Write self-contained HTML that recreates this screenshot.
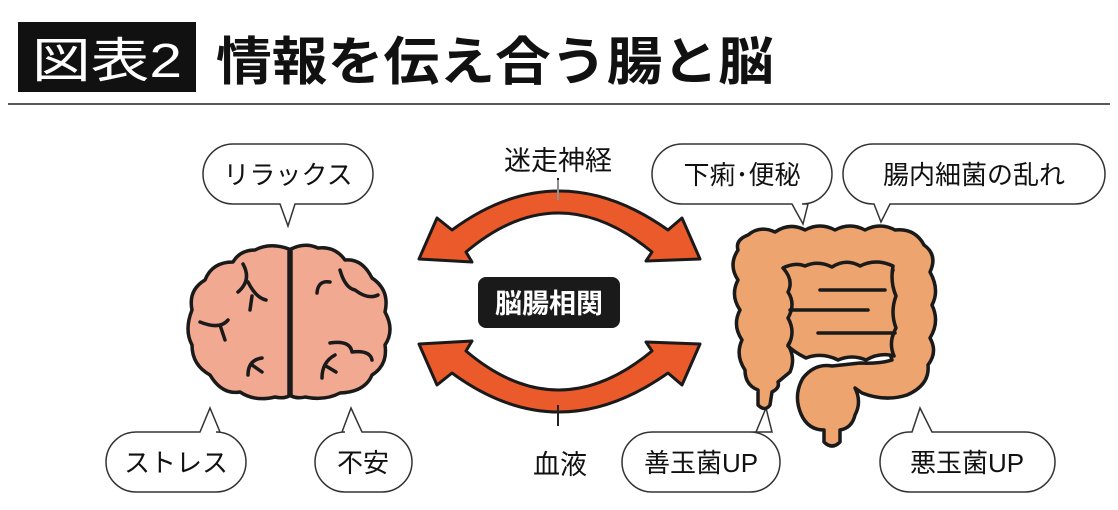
<!DOCTYPE html>
<html><head><meta charset="utf-8"><style>
html,body{margin:0;padding:0;background:#fff;}
svg{display:block;}
text{font-family:"Liberation Sans","Noto Sans CJK JP",sans-serif;}
</style></head><body>
<svg width="1118" height="510" viewBox="0 0 1118 510" xmlns="http://www.w3.org/2000/svg">
<rect x="18" y="22" width="178" height="70" fill="#111"/>
<text x="107" y="77" font-size="48" fill="#fff" text-anchor="middle" textLength="150" lengthAdjust="spacingAndGlyphs">図表2</text>
<text x="216" y="80" font-size="52" font-weight="bold" fill="#111" textLength="558" lengthAdjust="spacingAndGlyphs">情報を伝え合う腸と脳</text>
<line x1="8" y1="104" x2="1110" y2="104" stroke="#222" stroke-width="1.5"/>

<g stroke="#1a1a1a" stroke-width="3" stroke-linejoin="round" fill="#ea5a2a">
<path d="M437,218 L419,259 L472,262 L466,252 Q558,174 652,252 L646,261 L700,259 L682,218 L668,230 Q558,152 452,230 Z"/>
<path d="M437,385 L419,344 L472,341 L466,351 Q558,429 652,351 L646,342 L700,344 L682,385 L668,373 Q558,451 452,373 Z"/>
</g>
<line x1="558" y1="178" x2="558" y2="200" stroke="#222" stroke-width="2"/>
<line x1="558" y1="405" x2="558" y2="426" stroke="#222" stroke-width="2"/>
<line x1="558" y1="180" x2="558" y2="200" stroke="#fff" stroke-width="1"/>
<text x="558" y="170" font-size="27" text-anchor="middle" fill="#111">迷走神経</text>
<text x="560" y="474" font-size="27" text-anchor="middle" fill="#111">血液</text>
<rect x="478" y="277" width="142" height="51" rx="8" fill="#1a1a1a"/>
<text x="549" y="313" font-size="27" font-weight="bold" text-anchor="middle" fill="#fff">脳腸相関</text>

<g fill="#fff" stroke="#333" stroke-width="1.5">
<path d="M233,144 H343 A30,30 0 0 1 343,204 H295 L288,226 L280,204 H233 A30,30 0 0 1 233,144 Z"/>
<path d="M682,144 H802 A30,30 0 0 1 802,204 H808 L803,224 L792,204 H682 A30,30 0 0 1 682,144 Z"/>
<path d="M873,144 H1075 A30,30 0 0 1 1075,204 H890 L881,222 L874,204 H873 A30,30 0 0 1 873,144 Z"/>
<path d="M136,432 H200 L210,408 L220,432 H216 A30,30 0 0 1 216,492 H136 A30,30 0 0 1 136,432 Z"/>
<path d="M345,432 H342 L351,408 L362,432 H382 A30,30 0 0 1 382,492 H345 A30,30 0 0 1 345,432 Z"/>
<path d="M652,432 H756 L766,408 L772,432 H750 A30,30 0 0 1 750,492 H652 A30,30 0 0 1 652,432 Z"/>
<path d="M910,432 H912 L920,408 L932,432 H1025 A30,30 0 0 1 1025,492 H910 A30,30 0 0 1 910,432 Z"/>
</g>
<g font-size="26" fill="#111" text-anchor="middle">
<text x="288" y="184">リラックス</text>
<text x="742" y="184">下痢･便秘</text>
<text x="974" y="184">腸内細菌の乱れ</text>
<text x="176" y="472">ストレス</text>
<text x="363" y="472">不安</text>
<text x="701" y="472">善玉菌UP</text>
<text x="967" y="472">悪玉菌UP</text>
</g>

<g stroke="#1a1a1a" stroke-width="3.5" fill="#f2a992" stroke-linejoin="round" stroke-linecap="round">
<path d="M289,249 Q270,242 255,250 Q240,250 233,262 Q212,262 205,280 Q188,290 192,310 Q184,330 192,345 Q192,365 210,375 Q222,395 240,392 Q255,402 275,397 Q283,399 289,396 Z"/>
<path d="M291,249 Q305,242 318,248 Q335,246 345,260 Q362,258 372,278 Q390,290 385,312 Q395,330 385,345 Q388,365 372,375 Q365,392 340,393 Q325,401 305,397 Q298,399 291,396 Z"/>
<path d="M243,264 Q252,280 238,292 M248,282 Q256,298 266,300 M252,296 L250,310 M200,322 Q220,330 228,320 M220,325 L225,340 M262,358 Q248,360 248,375 M252,365 L262,372 M330,282 Q318,280 317,293 M340,270 Q345,288 355,290 Q368,300 378,295 M330,343 Q350,340 352,352 Q370,350 372,360 M335,355 Q322,362 322,378 M326,366 L336,372"/>
</g>

<g stroke="#1a1a1a" stroke-width="3.5" fill="#eda46f" stroke-linejoin="round" stroke-linecap="round">
<path d="M748,235 Q760,225 775,232 Q790,222 805,230 Q820,222 835,230 Q850,222 865,230 Q880,222 895,230 Q915,228 924,245 Q938,255 930,272 Q940,290 932,305 Q940,322 930,338 Q938,352 928,365 Q930,385 907,395 Q885,402 862,393 L855,388 Q862,402 855,415 Q852,428 840,430 L840,442 Q832,450 824,442 L824,430 Q808,430 801,414 Q793,395 803,378 Q815,363 832,366 L860,363 Q880,364 892,360 Q888,350 893,335 Q885,330 890,318 Q888,305 895,295 Q888,285 893,270 Q880,272 870,265 Q858,275 842,268 Q828,275 815,270 L794,270 Q798,285 790,295 Q797,305 790,318 Q798,330 788,345 Q796,358 790,372 L778,382 Q780,388 772,392 L770,405 Q765,412 758,405 L758,390 Q745,385 745,370 Q735,355 742,340 Q732,325 740,310 Q730,295 738,280 Q728,265 738,250 Q735,240 748,235 Z"/>
<path d="M783,268 Q795,262 805,266 Q818,260 832,267 Q846,258 860,266 Q876,258 893,266 Q890,282 896,296 Q890,312 896,328 Q888,342 894,356 Q880,352 866,360 Q852,354 838,360 Q822,352 806,358 Q794,352 788,346 Q796,332 788,318 Q796,304 788,292 Q794,280 783,268 Z"/>
<path d="M820,290 L885,290 M790,310 L868,310 M818,333 L895,333" fill="none"/>
</g>
</svg>
</body></html>
